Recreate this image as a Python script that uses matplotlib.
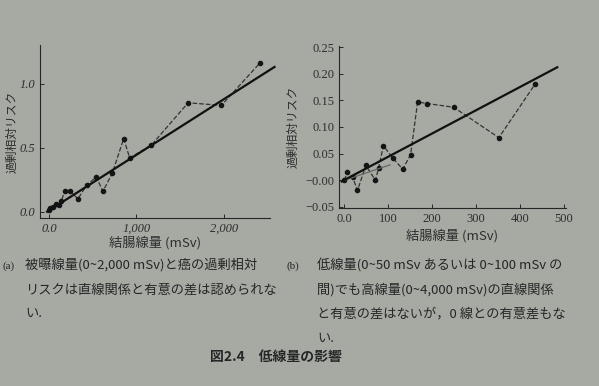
#!/usr/bin/env python3
"""
Fig 2.4 - low dose effect (excess relative risk vs colon dose)
"""

import matplotlib.pyplot as plt

plt.rcParams['font.family'] = ['Noto Sans CJK JP', 'DejaVu Sans']

# (a) full dose range, 0-2,500 mSv
dose_a = [0, 15, 45, 76, 115, 141, 180, 244, 332, 435, 542, 618, 725, 855, 924,
          1172, 1592, 1973, 2412]
err_a = [0.01, 0.03, 0.04, 0.06, 0.05, 0.08, 0.16, 0.16, 0.10, 0.21, 0.27, 0.16,
         0.30, 0.57, 0.42, 0.52, 0.85, 0.83, 1.16]
fit_a_x = [-20, 2580]
fit_a_y = [0.0, 1.13]

# (b) low dose range, 0-500 mSv
dose_b = [0, 7, 19, 30, 49, 71, 78, 89, 110, 133, 151, 167, 189, 249, 352, 435]
err_b = [0.0, 0.015, 0.006, -0.019, 0.028, 0.0, 0.023, 0.065, 0.042, 0.021,
         0.048, 0.147, 0.144, 0.137, 0.080, 0.181]
fit_b_x = [-6, 485]
fit_b_y = [-0.002, 0.212]
low_fit_x = [0, 104]
low_fit_y = [0.0, 0.029]

yticks_b = [-0.05, 0.0, 0.05, 0.10, 0.15, 0.20, 0.25]
yticklabels_b = ['\u22120.05', '\u22120.00', '0.05', '0.10', '0.15', '0.20', '0.25']
xticks_b = [0, 100, 200, 300, 400, 500]
xticklabels_b = ['0.0', '100', '200', '300', '400', '500']

bg = '#a6aaa3'
ink = '#262626'
serif = ['Liberation Serif', 'DejaVu Serif']

fig = plt.figure(figsize=(5.99, 3.86), dpi=100, facecolor=bg)


def style(ax):
    ax.set_facecolor('none')
    for s in ['top', 'right']:
        ax.spines[s].set_visible(False)
    for s in ['left', 'bottom']:
        ax.spines[s].set_color(ink)
        ax.spines[s].set_linewidth(0.8)
    ax.tick_params(direction='in', length=3, width=0.7, colors=ink,
                   labelcolor='#2e2e2e', labelsize=9)
    for lab in ax.get_xticklabels() + ax.get_yticklabels():
        lab.set_family(serif)


# ---- (a)
ax1 = fig.add_axes([0.067, 0.435, 0.384, 0.448])
ax1.plot(dose_a, err_a, linestyle='--', color='#333333', lw=0.9,
         marker='o', ms=3, mfc='#151515', mec='#151515')
ax1.plot(fit_a_x, fit_a_y, color='#111111', lw=1.6, clip_on=False)
ax1.set_xlim(-100, 2530)
ax1.set_ylim(-0.05, 1.3)
ax1.set_xticks([0, 1000, 2000])
ax1.set_xticklabels(['0.0', '1,000', '2,000'], style='italic')
ax1.set_yticks([0.0, 0.5, 1.0])
ax1.set_yticklabels(['0.0', '0.5', '1.0'], style='italic')
ax1.set_xlabel('結腸線量 (mSv)', fontsize=9.5, color='#2e2e2e', labelpad=1)
ax1.set_ylabel('過剰相対リスク', fontsize=8.5, color='#2e2e2e', labelpad=0.5)
style(ax1)

# ---- (b)
ax2 = fig.add_axes([0.566, 0.461, 0.379, 0.420])
ax2.plot(dose_b, err_b, linestyle='--', color='#333333', lw=0.9,
         marker='o', ms=3, mfc='#151515', mec='#151515')
ax2.plot(low_fit_x, low_fit_y, color='#666666', lw=0.9)
ax2.plot(fit_b_x, fit_b_y, color='#111111', lw=1.6, clip_on=False)
ax2.set_xlim(-12, 505)
ax2.set_ylim(-0.052, 0.252)
ax2.set_xticks(xticks_b)
ax2.set_xticklabels(xticklabels_b)
ax2.set_yticks(yticks_b)
ax2.set_yticklabels(yticklabels_b)
ax2.set_xlabel('結腸線量 (mSv)', fontsize=9.5, color='#2e2e2e', labelpad=3)
ax2.set_ylabel('過剰相対リスク', fontsize=8.5, color='#2e2e2e', labelpad=4)
style(ax2)

# ---- captions
tc = '#262626'
fig.text(0.005, 0.305, '(a)', fontsize=8, color=tc, family=serif)
fig.text(0.042, 0.305, '被曝線量(0~2,000 mSv)と癌の過剰相対', fontsize=9.5, color=tc)
fig.text(0.042, 0.240, 'リスクは直線関係と有意の差は認められな', fontsize=9.5, color=tc)
fig.text(0.042, 0.180, 'い.', fontsize=9.5, color=tc)

fig.text(0.478, 0.305, '(b)', fontsize=8, color=tc, family=serif)
fig.text(0.530, 0.305, '低線量(0~50 mSv あるいは 0~100 mSv の', fontsize=9.5, color=tc)
fig.text(0.530, 0.240, '間)でも高線量(0~4,000 mSv)の直線関係', fontsize=9.5, color=tc)
fig.text(0.530, 0.177, 'と有意の差はないが，0 線との有意差もな', fontsize=9.5, color=tc)
fig.text(0.530, 0.115, 'い.', fontsize=9.5, color=tc)

fig.text(0.46, 0.065, '図2.4　低線量の影響', fontsize=10, color=tc, ha='center',
         fontweight='bold')

fig.savefig('out.png', dpi=100, facecolor=bg)
